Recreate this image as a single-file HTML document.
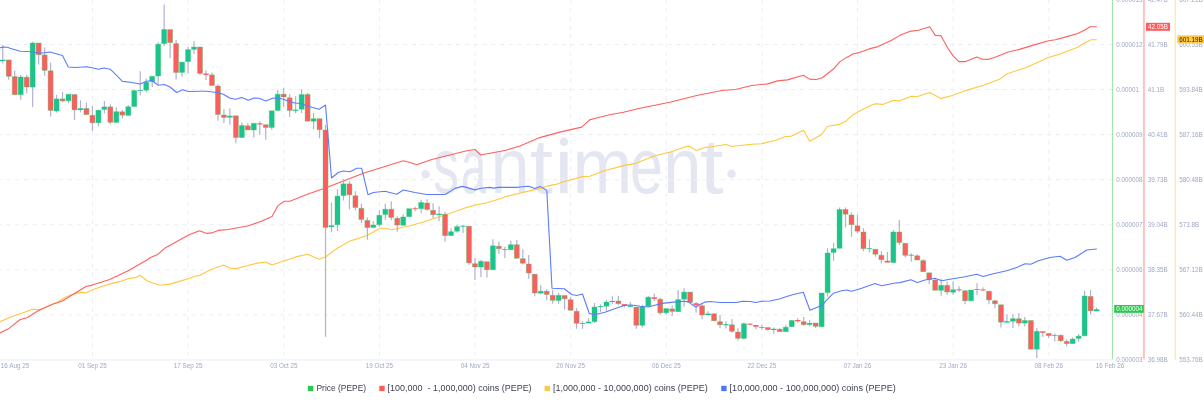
<!DOCTYPE html><html><head><meta charset="utf-8"><style>
html,body{margin:0;padding:0;background:#fff;}
body{width:1204px;height:402px;overflow:hidden;position:relative;font-family:"Liberation Sans", sans-serif;}
svg{position:absolute;left:0;top:0;will-change:transform;}
.lg{position:absolute;top:381px;height:14px;line-height:14px;font-size:8.4px;color:#474b57;white-space:pre;}
.sq{position:absolute;top:385.8px;width:5.3px;height:5.3px;}
</style></head><body>
<svg width="1204" height="402" viewBox="0 0 1204 402" font-family='"Liberation Sans", sans-serif'>
<g fill="#e4e7f2" font-size="78.54">
<text transform="translate(433.27 193.20) scale(0.6541 1)">s</text>
<text transform="translate(461.08 193.20) scale(0.5751 1)">a</text>
<text transform="translate(490.43 193.20) scale(0.8962 1)">n</text>
<text transform="translate(529.74 193.20) scale(1.0620 1)">t</text>
<text transform="translate(572.42 193.20) scale(0.9158 1)">m</text>
<text transform="translate(629.98 193.20) scale(0.7543 1)">e</text>
<text transform="translate(663.25 193.20) scale(0.8722 1)">n</text>
<text transform="translate(700.01 193.20) scale(1.0819 1)">t</text>
<rect x="560.1" y="151.9" width="7.5" height="41.3"/>
<circle cx="563.9" cy="141.7" r="4.3"/>
<circle cx="425.6" cy="174.2" r="4.2"/><circle cx="731.5" cy="173.8" r="4.2"/>
</g>
<g stroke="#edeef5" stroke-width="1" stroke-dasharray="4.41 4.41" fill="none">
<line x1="0" y1="44.50" x2="1112" y2="44.50" stroke-dashoffset="2.72"/>
<line x1="0" y1="89.56" x2="1112" y2="89.56" stroke-dashoffset="2.72"/>
<line x1="0" y1="134.62" x2="1112" y2="134.62" stroke-dashoffset="2.72"/>
<line x1="0" y1="179.68" x2="1112" y2="179.68" stroke-dashoffset="2.72"/>
<line x1="0" y1="224.74" x2="1112" y2="224.74" stroke-dashoffset="2.72"/>
<line x1="0" y1="269.80" x2="1112" y2="269.80" stroke-dashoffset="2.72"/>
<line x1="0" y1="314.86" x2="1112" y2="314.86" stroke-dashoffset="2.72"/>
<line x1="92.55" y1="0" x2="92.55" y2="359" stroke-dashoffset="1.02"/>
<line x1="188.18" y1="0" x2="188.18" y2="359" stroke-dashoffset="1.02"/>
<line x1="283.80" y1="0" x2="283.80" y2="359" stroke-dashoffset="1.02"/>
<line x1="379.43" y1="0" x2="379.43" y2="359" stroke-dashoffset="1.02"/>
<line x1="475.05" y1="0" x2="475.05" y2="359" stroke-dashoffset="1.02"/>
<line x1="570.67" y1="0" x2="570.67" y2="359" stroke-dashoffset="1.02"/>
<line x1="666.30" y1="0" x2="666.30" y2="359" stroke-dashoffset="1.02"/>
<line x1="761.92" y1="0" x2="761.92" y2="359" stroke-dashoffset="1.02"/>
<line x1="857.55" y1="0" x2="857.55" y2="359" stroke-dashoffset="1.02"/>
<line x1="953.17" y1="0" x2="953.17" y2="359" stroke-dashoffset="1.02"/>
<line x1="1048.80" y1="0" x2="1048.80" y2="359" stroke-dashoffset="1.02"/>
</g>
<rect x="0" y="359.5" width="1112.4" height="1" fill="#eceef5"/>
<polyline points="-3.5,323.0 0.0,321.7 13.4,316.0 22.4,312.9 32.5,309.2 40.3,309.6 50.0,305.5 58.7,301.5 64.9,297.5 69.9,295.3 79.8,292.4 86.0,292.7 93.5,289.6 102.2,286.3 112.1,283.4 120.8,281.4 128.3,278.4 134.5,277.9 140.1,275.3 147.0,280.8 152.0,282.8 160.0,285.2 170.2,284.1 179.2,281.4 190.4,277.9 195.0,276.3 200.0,275.3 209.9,270.1 223.6,265.1 229.8,268.2 236.0,268.6 247.2,265.7 257.2,263.1 265.3,262.0 272.1,264.9 282.1,261.4 289.5,259.3 297.0,256.6 307.6,254.2 319.2,259.2 325.8,256.7 338.3,247.5 350.0,241.0 356.8,238.9 368.0,234.9 380.0,228.3 385.8,228.2 391.7,229.8 398.3,228.3 410.0,225.8 423.3,222.0 436.7,217.5 448.3,214.0 455.0,211.6 465.0,207.9 477.4,204.5 486.1,203.0 496.0,199.9 507.2,196.3 519.7,193.3 529.6,190.9 540.8,188.4 547.0,186.1 557.0,184.1 563.2,181.8 575.0,178.9 581.7,176.6 589.6,176.2 603.6,171.0 623.5,165.6 635.5,163.4 653.4,156.2 671.3,151.7 685.3,146.7 689.3,146.3 696.3,150.5 705.2,147.4 712.0,146.7 725.9,144.5 731.9,146.5 739.9,145.5 751.8,144.3 761.8,143.7 775.7,140.3 785.7,136.5 791.7,136.1 803.6,130.3 809.6,141.3 821.6,134.5 827.6,126.3 839.5,124.4 845.5,121.3 852.5,115.1 861.5,110.0 872.5,104.7 875.9,103.7 882.6,104.4 893.8,100.2 899.4,101.1 910.6,96.4 917.4,96.5 929.7,92.6 940.9,98.6 952.1,95.5 965.6,90.6 983.5,85.3 1000.3,78.9 1007.1,73.8 1017.2,70.6 1026.1,67.6 1037.4,62.5 1048.6,57.5 1059.8,53.9 1077.7,47.2 1084.4,43.0 1091.2,39.7 1096.8,39.7" fill="none" stroke="#ffc840" stroke-width="1.1" stroke-linejoin="round"/>
<polyline points="-3.5,334.5 0.0,332.9 9.0,328.4 20.2,319.5 26.9,317.8 38.1,310.8 52.4,304.3 62.4,301.0 72.3,294.8 86.0,286.5 92.2,285.1 109.7,279.4 127.1,271.2 147.0,260.0 150.0,257.8 157.8,254.4 164.6,248.3 174.6,242.8 188.1,235.3 199.3,230.8 207.1,233.4 211.6,232.9 218.3,230.4 228.4,229.5 248.5,225.7 261.9,221.1 272.0,216.5 278.0,205.6 284.3,201.3 289.9,201.3 306.7,194.5 323.3,188.7 363.3,173.3 403.3,160.8 410.0,162.5 416.7,164.7 431.7,159.5 450.0,155.0 466.7,150.8 475.0,149.5 480.8,155.0 490.0,153.3 505.9,150.3 519.9,146.0 539.8,137.6 559.7,132.1 581.7,127.1 589.6,119.9 595.6,118.3 609.6,114.7 623.5,112.2 639.9,108.2 669.8,102.3 695.7,95.8 721.7,90.5 735.6,89.5 751.6,85.5 767.5,83.9 777.5,80.9 787.4,79.9 803.4,75.3 809.4,79.1 816.3,79.5 822.3,77.7 834.3,68.2 840.0,61.6 846.7,57.4 853.5,53.7 857.9,52.9 869.2,48.9 878.1,46.6 891.6,40.3 899.4,35.6 909.5,31.4 918.5,30.2 929.7,26.7 935.3,35.4 940.9,35.6 947.6,47.7 953.3,56.1 958.9,61.6 965.6,61.6 976.8,57.1 982.4,59.2 988.0,59.4 997.0,56.4 1008.2,52.0 1019.4,49.4 1035.1,44.6 1048.6,40.7 1055.3,39.7 1064.3,37.4 1077.7,33.5 1084.4,30.2 1090.1,26.7 1096.8,26.7" fill="none" stroke="#ff6060" stroke-width="1.1" stroke-linejoin="round"/>
<path d="M2.78 45.0V63.5M8.75 59.9V79.7M14.73 70.4V94.7M20.71 75.0V99.7M26.69 74.7V93.3M32.66 41.7V107.0M38.64 43.0V64.5M44.62 47.4V75.7M50.59 62.7V116.5M56.57 95.1V112.5M62.55 92.1V102.3M68.52 94.3V103.3M74.50 94.5V120.0M80.48 100.2V112.5M86.45 102.4V114.6M92.43 105.9V131.0M98.41 110.2V126.3M104.39 101.0V113.5M110.36 104.2V124.5M116.34 107.3V122.4M122.32 109.9V118.3M128.29 104.9V115.4M134.27 89.7V106.4M140.25 71.2V95.6M146.23 78.4V92.5M152.20 76.3V87.2M158.18 42.3V84.2M164.16 4.4V45.9M170.13 29.6V58.0M176.11 40.0V79.5M182.09 62.1V76.7M188.06 47.0V73.4M194.04 41.0V54.0M200.02 47.0V75.0M206.00 70.2V80.1M211.97 72.6V85.5M217.95 84.2V120.8M223.93 109.2V123.0M229.90 108.3V124.7M235.88 115.8V143.3M241.86 122.5V137.5M247.83 123.3V130.0M253.81 123.3V137.5M259.79 121.3V135.0M265.77 124.7V139.7M271.74 110.8V129.7M277.72 90.0V110.5M283.70 87.8V106.7M289.67 94.2V117.0M295.65 96.3V113.3M301.63 89.2V113.0M307.60 93.0V121.2M313.58 113.0V129.2M319.56 118.7V138.3M325.54 125.0V336.7M331.51 202.5V232.3M337.49 189.2V231.0M343.47 179.1V200.5M349.44 181.0V209.3M355.42 191.3V210.5M361.40 203.8V223.1M367.37 217.5V239.7M373.35 221.3V227.5M379.33 210.3V226.7M385.31 203.7V219.7M391.28 201.3V220.3M397.26 216.3V231.7M403.24 214.2V225.3M409.21 208.7V216.7M415.19 206.7V211.3M421.17 199.7V213.3M427.14 199.2V210.8M433.12 203.3V218.3M439.10 206.3V221.3M445.08 211.8V241.7M451.05 228.3V235.6M457.03 224.7V232.5M463.01 224.7V233.0M468.98 226.2V265.0M474.96 258.3V280.0M480.94 260.0V277.0M486.91 261.7V277.5M492.89 239.2V269.7M498.87 241.7V253.7M504.85 246.7V258.0M510.82 240.8V249.7M516.80 240.0V258.3M522.78 249.2V264.7M528.75 255.0V278.7M534.73 274.2V296.3M540.71 285.3V293.3M546.68 289.2V300.3M552.66 290.0V303.7M558.64 293.0V303.7M564.62 295.5V309.7M570.59 296.7V310.3M576.57 308.3V328.7M582.55 321.3V328.7M588.52 318.3V323.3M594.50 303.0V323.0M600.48 304.2V312.0M606.45 299.8V310.8M612.43 296.3V303.8M618.41 296.1V305.0M624.38 304.2V307.5M630.36 302.0V306.7M636.34 307.1V328.7M642.32 304.7V327.5M648.29 295.7V306.2M654.27 293.4V301.0M660.25 297.4V314.8M666.22 308.6V314.8M672.20 305.6V315.9M678.18 290.1V311.7M684.15 288.2V306.4M690.13 292.1V303.5M696.11 302.0V312.7M702.09 303.0V319.2M708.06 311.3V315.1M714.04 313.3V320.8M720.02 315.0V328.3M725.99 321.3V328.5M731.97 319.2V332.8M737.95 328.3V340.5M743.92 322.5V339.7M749.90 323.0V324.7M755.88 325.0V329.2M761.86 324.7V329.7M767.83 327.5V330.8M773.81 327.5V333.7M779.79 328.3V331.7M785.76 325.0V331.7M791.74 320.0V326.7M797.72 318.3V322.5M803.70 317.0V325.8M809.67 320.0V326.3M815.65 323.0V328.0M821.63 293.0V326.7M827.60 248.3V296.7M833.58 243.0V260.8M839.56 207.5V248.3M845.53 207.5V227.5M851.51 212.5V236.7M857.49 214.7V233.3M863.47 228.3V251.3M869.44 239.2V252.5M875.42 249.2V256.7M881.40 251.3V263.3M887.37 252.0V262.5M893.35 230.0V263.3M899.33 220.0V245.0M905.30 243.3V257.5M911.28 253.3V261.7M917.26 254.2V260.0M923.24 259.2V271.7M929.21 272.8V284.2M935.19 278.3V290.3M941.17 278.7V295.8M947.14 281.7V294.7M953.12 281.3V294.7M959.10 286.3V291.7M965.07 289.7V304.2M971.05 290.0V300.8M977.03 283.3V295.3M983.00 287.5V290.5M988.98 291.2V304.3M994.96 299.8V307.8M1000.94 304.8V327.4M1006.91 314.2V322.6M1012.89 314.3V328.0M1018.87 313.0V326.6M1024.84 317.0V326.6M1030.82 320.5V349.2M1036.80 328.3V358.3M1042.78 331.3V337.0M1048.75 333.5V337.9M1054.73 333.5V341.4M1060.71 334.5V342.0M1066.68 339.3V346.6M1072.66 337.5V343.6M1078.64 333.9V341.4M1084.61 290.9V335.8M1090.59 290.0V314.4M1096.57 307.4V311.2" stroke="#b0b2d0" stroke-width="1.2" fill="none"/>
<g fill="#1cc38f" stroke="#3cc864" stroke-opacity="0.45" stroke-width="0.8"><rect x="0.08" y="59.8" width="5.4" height="1.2" stroke="none"/><rect x="18.21" y="77.0" width="5.0" height="17.7"/><rect x="30.16" y="43.0" width="5.0" height="44.1"/><rect x="54.07" y="98.9" width="5.0" height="12.1"/><rect x="66.02" y="94.3" width="5.0" height="6.5"/><rect x="77.78" y="108.3" width="5.4" height="1.7" stroke="none"/><rect x="95.91" y="110.2" width="5.0" height="12.6"/><rect x="101.89" y="106.9" width="5.0" height="2.6"/><rect x="113.84" y="111.7" width="5.0" height="10.7"/><rect x="125.79" y="106.8" width="5.0" height="8.6"/><rect x="131.77" y="90.6" width="5.0" height="15.8"/><rect x="137.55" y="90.0" width="5.4" height="0.8" stroke="none"/><rect x="143.73" y="82.2" width="5.0" height="8.0"/><rect x="149.70" y="76.3" width="5.0" height="5.3"/><rect x="155.68" y="44.2" width="5.0" height="31.8"/><rect x="161.66" y="29.5" width="5.0" height="14.1"/><rect x="179.59" y="62.1" width="5.0" height="10.3"/><rect x="185.56" y="49.7" width="5.0" height="11.9"/><rect x="191.54" y="47.0" width="5.0" height="2.4"/><rect x="227.20" y="115.8" width="5.4" height="1.7" stroke="none"/><rect x="239.36" y="125.5" width="5.0" height="12.0"/><rect x="251.31" y="123.3" width="5.0" height="6.7"/><rect x="269.24" y="110.8" width="5.0" height="16.7"/><rect x="275.22" y="94.2" width="5.0" height="16.3"/><rect x="292.95" y="109.7" width="5.4" height="1.1" stroke="none"/><rect x="299.13" y="94.5" width="5.0" height="14.7"/><rect x="311.08" y="118.7" width="5.0" height="2.5"/><rect x="328.81" y="225.4" width="5.4" height="1.6" stroke="none"/><rect x="334.99" y="196.1" width="5.0" height="28.7"/><rect x="340.97" y="183.9" width="5.0" height="11.7"/><rect x="370.85" y="225.0" width="5.0" height="2.5"/><rect x="376.83" y="215.3" width="5.0" height="9.4"/><rect x="382.81" y="209.2" width="5.0" height="5.3"/><rect x="400.74" y="217.0" width="5.0" height="8.3"/><rect x="406.71" y="208.7" width="5.0" height="8.0"/><rect x="418.67" y="202.5" width="5.0" height="6.2"/><rect x="436.40" y="213.8" width="5.4" height="1.2" stroke="none"/><rect x="448.55" y="231.7" width="5.0" height="3.9"/><rect x="454.53" y="226.7" width="5.0" height="4.5"/><rect x="460.31" y="225.8" width="5.4" height="0.9" stroke="none"/><rect x="478.44" y="261.3" width="5.0" height="5.7"/><rect x="490.39" y="245.8" width="5.0" height="23.9"/><rect x="508.32" y="244.7" width="5.0" height="5.0"/><rect x="538.21" y="291.2" width="5.0" height="2.1"/><rect x="556.14" y="295.3" width="5.0" height="5.2"/><rect x="579.85" y="323.0" width="5.4" height="0.8" stroke="none"/><rect x="585.82" y="321.7" width="5.4" height="1.6" stroke="none"/><rect x="592.00" y="307.0" width="5.0" height="14.7"/><rect x="597.78" y="306.2" width="5.4" height="0.8" stroke="none"/><rect x="603.95" y="302.0" width="5.0" height="4.2"/><rect x="609.73" y="301.0" width="5.4" height="1.0" stroke="none"/><rect x="627.66" y="306.0" width="5.4" height="0.8" stroke="none"/><rect x="639.82" y="306.5" width="5.0" height="18.8"/><rect x="645.79" y="297.2" width="5.0" height="9.0"/><rect x="663.72" y="308.6" width="5.0" height="4.2"/><rect x="675.68" y="299.6" width="5.0" height="12.1"/><rect x="681.65" y="292.1" width="5.0" height="7.1"/><rect x="705.36" y="313.6" width="5.4" height="1.5" stroke="none"/><rect x="723.29" y="324.2" width="5.4" height="1.1" stroke="none"/><rect x="741.42" y="323.7" width="5.0" height="14.6"/><rect x="771.11" y="328.8" width="5.4" height="1.2" stroke="none"/><rect x="783.26" y="327.2" width="5.0" height="4.5"/><rect x="789.24" y="320.5" width="5.0" height="6.2"/><rect x="806.97" y="323.0" width="5.4" height="1.7" stroke="none"/><rect x="819.13" y="293.0" width="5.0" height="33.7"/><rect x="825.10" y="253.0" width="5.0" height="39.5"/><rect x="831.08" y="248.7" width="5.0" height="3.8"/><rect x="837.06" y="209.5" width="5.0" height="38.8"/><rect x="866.74" y="248.3" width="5.4" height="0.8" stroke="none"/><rect x="890.85" y="232.0" width="5.0" height="30.5"/><rect x="908.58" y="254.8" width="5.4" height="0.8" stroke="none"/><rect x="938.67" y="285.3" width="5.0" height="5.0"/><rect x="950.62" y="289.7" width="5.0" height="2.5"/><rect x="968.55" y="290.0" width="5.0" height="10.8"/><rect x="974.33" y="289.2" width="5.4" height="0.8" stroke="none"/><rect x="1004.21" y="321.3" width="5.4" height="1.3" stroke="none"/><rect x="1010.39" y="318.7" width="5.0" height="2.6"/><rect x="1022.34" y="320.5" width="5.0" height="2.6"/><rect x="1034.30" y="331.3" width="5.0" height="17.9"/><rect x="1052.03" y="334.9" width="5.4" height="0.8" stroke="none"/><rect x="1070.16" y="339.1" width="5.0" height="4.5"/><rect x="1076.14" y="336.1" width="5.0" height="2.3"/><rect x="1082.11" y="296.0" width="5.0" height="39.8"/><rect x="1093.87" y="309.3" width="5.4" height="1.9" stroke="none"/></g>
<g fill="#ff5d5d" stroke="#3cc864" stroke-opacity="0.45" stroke-width="0.8"><rect x="6.25" y="59.9" width="5.0" height="16.4"/><rect x="12.23" y="76.6" width="5.0" height="18.1"/><rect x="24.19" y="77.2" width="5.0" height="9.8"/><rect x="36.14" y="43.0" width="5.0" height="11.8"/><rect x="42.12" y="54.9" width="5.0" height="15.5"/><rect x="48.09" y="70.8" width="5.0" height="39.7"/><rect x="60.05" y="98.9" width="5.0" height="2.0"/><rect x="72.00" y="94.5" width="5.0" height="15.4"/><rect x="83.95" y="108.4" width="5.0" height="6.2"/><rect x="89.93" y="115.3" width="5.0" height="7.5"/><rect x="107.86" y="106.9" width="5.0" height="15.4"/><rect x="119.82" y="111.8" width="5.0" height="3.3"/><rect x="167.63" y="29.6" width="5.0" height="13.0"/><rect x="173.61" y="43.6" width="5.0" height="28.9"/><rect x="197.52" y="47.0" width="5.0" height="26.4"/><rect x="203.30" y="73.5" width="5.4" height="1.4" stroke="none"/><rect x="209.47" y="74.9" width="5.0" height="10.6"/><rect x="215.45" y="86.0" width="5.0" height="28.5"/><rect x="221.43" y="115.0" width="5.0" height="2.5"/><rect x="233.38" y="115.8" width="5.0" height="21.7"/><rect x="245.33" y="125.8" width="5.0" height="4.2"/><rect x="257.09" y="123.3" width="5.4" height="1.2" stroke="none"/><rect x="263.27" y="124.7" width="5.0" height="2.8"/><rect x="281.20" y="94.2" width="5.0" height="2.8"/><rect x="287.17" y="97.8" width="5.0" height="12.7"/><rect x="305.10" y="94.5" width="5.0" height="26.7"/><rect x="317.06" y="118.7" width="5.0" height="11.0"/><rect x="323.04" y="130.0" width="5.0" height="97.4"/><rect x="346.94" y="183.9" width="5.0" height="10.9"/><rect x="352.92" y="195.8" width="5.0" height="11.7"/><rect x="358.90" y="208.3" width="5.0" height="11.2"/><rect x="364.87" y="220.4" width="5.0" height="7.1"/><rect x="388.78" y="209.2" width="5.0" height="8.3"/><rect x="394.76" y="218.3" width="5.0" height="6.7"/><rect x="412.49" y="208.3" width="5.4" height="0.9" stroke="none"/><rect x="424.64" y="203.0" width="5.0" height="6.5"/><rect x="430.62" y="210.3" width="5.0" height="4.4"/><rect x="442.58" y="214.3" width="5.0" height="21.3"/><rect x="466.48" y="226.2" width="5.0" height="36.7"/><rect x="472.46" y="263.7" width="5.0" height="3.3"/><rect x="484.41" y="261.7" width="5.0" height="8.0"/><rect x="496.37" y="246.2" width="5.0" height="2.5"/><rect x="502.15" y="249.0" width="5.4" height="0.8" stroke="none"/><rect x="514.30" y="244.7" width="5.0" height="13.6"/><rect x="520.28" y="258.7" width="5.0" height="4.5"/><rect x="526.25" y="264.0" width="5.0" height="9.0"/><rect x="532.23" y="274.2" width="5.0" height="18.8"/><rect x="544.18" y="291.2" width="5.0" height="3.3"/><rect x="550.16" y="295.3" width="5.0" height="5.0"/><rect x="562.12" y="295.5" width="5.0" height="3.3"/><rect x="568.09" y="299.7" width="5.0" height="10.6"/><rect x="574.07" y="311.3" width="5.0" height="12.0"/><rect x="615.91" y="301.0" width="5.0" height="2.7"/><rect x="621.68" y="304.2" width="5.4" height="1.8" stroke="none"/><rect x="633.84" y="307.1" width="5.0" height="18.2"/><rect x="651.57" y="297.3" width="5.4" height="1.6" stroke="none"/><rect x="657.75" y="299.3" width="5.0" height="13.5"/><rect x="669.70" y="308.9" width="5.0" height="2.5"/><rect x="687.63" y="292.1" width="5.0" height="10.4"/><rect x="693.41" y="303.3" width="5.4" height="1.8" stroke="none"/><rect x="699.59" y="305.8" width="5.0" height="9.2"/><rect x="711.54" y="313.8" width="5.0" height="7.0"/><rect x="717.52" y="321.7" width="5.0" height="3.0"/><rect x="729.47" y="324.8" width="5.0" height="6.5"/><rect x="735.45" y="332.0" width="5.0" height="6.3"/><rect x="747.20" y="323.7" width="5.4" height="1.0" stroke="none"/><rect x="753.18" y="325.0" width="5.4" height="1.7" stroke="none"/><rect x="759.16" y="327.0" width="5.4" height="0.8" stroke="none"/><rect x="765.33" y="327.5" width="5.0" height="2.2"/><rect x="777.29" y="329.2" width="5.0" height="2.5"/><rect x="795.02" y="320.0" width="5.4" height="1.3" stroke="none"/><rect x="801.20" y="321.7" width="5.0" height="3.0"/><rect x="813.15" y="323.0" width="5.0" height="3.3"/><rect x="843.03" y="209.5" width="5.0" height="4.7"/><rect x="849.01" y="215.0" width="5.0" height="9.7"/><rect x="854.99" y="225.8" width="5.0" height="5.4"/><rect x="860.97" y="232.0" width="5.0" height="16.7"/><rect x="872.92" y="249.2" width="5.0" height="5.0"/><rect x="878.90" y="255.3" width="5.0" height="4.4"/><rect x="884.67" y="260.8" width="5.4" height="1.7" stroke="none"/><rect x="896.83" y="232.0" width="5.0" height="10.5"/><rect x="902.80" y="243.3" width="5.0" height="12.0"/><rect x="914.76" y="255.8" width="5.0" height="4.2"/><rect x="920.74" y="260.6" width="5.0" height="11.1"/><rect x="926.71" y="272.8" width="5.0" height="6.9"/><rect x="932.69" y="280.0" width="5.0" height="10.3"/><rect x="944.64" y="285.3" width="5.0" height="6.7"/><rect x="956.40" y="289.3" width="5.4" height="1.0" stroke="none"/><rect x="962.57" y="290.8" width="5.0" height="10.0"/><rect x="980.30" y="289.5" width="5.4" height="1.0" stroke="none"/><rect x="986.48" y="291.2" width="5.0" height="8.8"/><rect x="992.46" y="300.8" width="5.0" height="3.0"/><rect x="998.44" y="304.8" width="5.0" height="17.4"/><rect x="1016.37" y="318.7" width="5.0" height="4.4"/><rect x="1028.32" y="320.5" width="5.0" height="28.7"/><rect x="1040.08" y="331.3" width="5.4" height="1.4" stroke="none"/><rect x="1046.25" y="333.5" width="5.0" height="2.1"/><rect x="1058.21" y="335.3" width="5.0" height="5.5"/><rect x="1064.18" y="341.4" width="5.0" height="2.2"/><rect x="1088.09" y="296.4" width="5.0" height="14.5"/></g>
<polyline points="-3.5,48.3 0.0,47.8 3.5,47.1 7.5,47.3 10.0,48.3 20.0,51.3 31.7,51.7 40.0,53.3 50.0,52.0 62.5,55.5 68.3,67.0 75.0,67.5 86.7,66.8 92.0,67.8 98.6,69.2 104.2,68.0 110.2,69.2 116.3,75.2 122.4,81.4 130.3,82.3 140.0,84.0 146.7,81.3 151.7,80.5 158.3,85.3 164.2,84.5 170.0,87.0 176.7,92.5 182.5,89.7 188.3,91.5 200.0,91.3 206.7,91.3 216.7,92.5 223.3,94.2 230.0,98.3 235.8,99.2 241.7,97.5 248.3,100.3 254.2,98.0 259.2,98.3 265.8,101.0 272.5,98.3 277.5,98.0 283.3,99.2 290.0,101.7 295.0,103.0 300.8,103.5 306.7,105.8 312.5,107.5 319.2,109.2 325.5,105.0 331.5,178.0 338.3,172.5 343.3,171.0 350.0,171.7 356.7,168.3 361.7,168.3 368.0,194.7 373.3,192.5 385.0,191.3 396.7,194.2 403.3,190.0 415.0,192.5 426.7,194.5 445.0,194.5 455.0,188.4 462.5,186.4 467.4,187.6 474.9,189.9 481.1,188.2 489.8,187.4 493.6,188.1 498.5,187.4 517.2,187.4 522.2,186.8 528.4,186.3 530.9,187.1 534.6,188.6 540.2,186.4 544.6,189.1 546.8,190.6 552.0,288.3 564.2,288.8 571.7,294.5 576.7,295.5 582.5,294.0 589.2,313.3 594.2,314.7 605.0,312.2 616.7,308.0 625.0,305.3 631.7,305.0 640.0,306.2 648.4,307.0 655.7,305.0 662.4,303.4 673.6,302.1 684.8,301.3 689.3,302.1 692.6,305.1 696.0,307.0 700.5,304.3 705.0,302.1 710.0,301.5 720.0,302.5 736.7,302.5 742.5,301.3 750.0,301.5 755.8,302.5 761.7,301.2 770.0,301.0 779.2,299.0 786.7,296.5 793.3,294.5 803.3,292.3 810.0,310.2 819.0,306.6 822.0,305.6 826.6,300.2 833.3,293.3 841.7,290.8 846.7,290.0 851.7,291.3 861.7,288.3 875.0,283.5 881.7,285.8 895.0,283.0 900.0,282.6 910.8,279.7 917.5,282.5 925.0,280.0 935.0,278.3 941.7,280.8 950.0,279.2 965.0,276.7 976.7,274.2 983.3,276.5 993.3,273.8 1006.7,270.8 1016.7,267.5 1025.0,263.8 1030.8,264.2 1038.3,260.8 1050.0,257.5 1060.0,256.2 1066.7,260.3 1075.0,257.5 1081.7,253.3 1086.7,250.0 1096.8,249.0" fill="none" stroke="#5a7cff" stroke-width="1.1" stroke-linejoin="round"/>
<rect x="1111.9" y="0" width="1.1" height="359.5" fill="#a3e4ad"/>
<rect x="1142.9" y="0" width="2" height="359.5" fill="#ffc2c2"/>
<rect x="1174.7" y="0" width="1.1" height="359.5" fill="#ffe39a"/>
<g font-size="6.3" fill="#a0a8c4">
<text x="1116.3" y="-0.6" dominant-baseline="central">0.000013</text>
<text x="1147.8" y="-0.6" dominant-baseline="central">42.47B</text>
<text x="1179.3" y="-0.6" dominant-baseline="central">607.21B</text>
<text x="1116.3" y="44.5" dominant-baseline="central">0.000012</text>
<text x="1147.8" y="44.5" dominant-baseline="central">41.79B</text>
<text x="1179.3" y="44.5" dominant-baseline="central">600.53B</text>
<text x="1116.3" y="89.6" dominant-baseline="central">0.00001</text>
<text x="1147.8" y="89.6" dominant-baseline="central">41.1B</text>
<text x="1179.3" y="89.6" dominant-baseline="central">593.84B</text>
<text x="1116.3" y="134.6" dominant-baseline="central">0.000009</text>
<text x="1147.8" y="134.6" dominant-baseline="central">40.41B</text>
<text x="1179.3" y="134.6" dominant-baseline="central">587.16B</text>
<text x="1116.3" y="179.7" dominant-baseline="central">0.000008</text>
<text x="1147.8" y="179.7" dominant-baseline="central">39.73B</text>
<text x="1179.3" y="179.7" dominant-baseline="central">580.48B</text>
<text x="1116.3" y="224.7" dominant-baseline="central">0.000007</text>
<text x="1147.8" y="224.7" dominant-baseline="central">39.04B</text>
<text x="1179.3" y="224.7" dominant-baseline="central">573.8B</text>
<text x="1116.3" y="269.8" dominant-baseline="central">0.000006</text>
<text x="1147.8" y="269.8" dominant-baseline="central">38.35B</text>
<text x="1179.3" y="269.8" dominant-baseline="central">567.12B</text>
<text x="1116.3" y="314.9" dominant-baseline="central">0.000004</text>
<text x="1147.8" y="314.9" dominant-baseline="central">37.67B</text>
<text x="1179.3" y="314.9" dominant-baseline="central">560.44B</text>
<text x="1116.3" y="359.9" dominant-baseline="central">0.000003</text>
<text x="1147.8" y="359.9" dominant-baseline="central">36.98B</text>
<text x="1179.3" y="359.9" dominant-baseline="central">553.76B</text>
</g>
<g font-size="6.3" fill="#a0a8c4">
<text x="0.8" y="367.9">16 Aug 25</text>
<text x="92.5" y="367.9" text-anchor="middle">01 Sep 25</text>
<text x="188.2" y="367.9" text-anchor="middle">17 Sep 25</text>
<text x="283.8" y="367.9" text-anchor="middle">03 Oct 25</text>
<text x="379.4" y="367.9" text-anchor="middle">19 Oct 25</text>
<text x="475.1" y="367.9" text-anchor="middle">04 Nov 25</text>
<text x="570.7" y="367.9" text-anchor="middle">20 Nov 25</text>
<text x="666.3" y="367.9" text-anchor="middle">06 Dec 25</text>
<text x="761.9" y="367.9" text-anchor="middle">22 Dec 25</text>
<text x="857.5" y="367.9" text-anchor="middle">07 Jan 26</text>
<text x="953.2" y="367.9" text-anchor="middle">23 Jan 26</text>
<text x="1048.8" y="367.9" text-anchor="middle">08 Feb 26</text>
<text x="1095.8" y="367.9">16 Feb 26</text>
</g>
<rect x="1146" y="22.8" width="24" height="8" fill="#ff5b5b"/>
<text x="1158" y="26.9" font-size="6.3" fill="#fff" text-anchor="middle" dominant-baseline="central">42.05B</text>
<rect x="1177.3" y="35.3" width="27" height="8.1" fill="#fdc947"/>
<text x="1179.3" y="39.4" font-size="6.3" fill="#222" dominant-baseline="central">601.19B</text>
<rect x="1114.2" y="305" width="29.6" height="7.8" fill="#2ac84f"/>
<text x="1116.3" y="308.9" font-size="6.3" fill="#fff" dominant-baseline="central">0.000004</text>
<g font-size="8.4" fill="#3f4250">
<rect x="307.9" y="385.8" width="5.4" height="5.3" fill="#2ac84f"/>
<text x="316.5" y="391.4" textLength="49.6" lengthAdjust="spacingAndGlyphs">Price (PEPE)</text>
<rect x="379.3" y="385.8" width="5.4" height="5.3" fill="#ff5b5b"/>
<text x="387.6" y="391.4" textLength="144.0" lengthAdjust="spacingAndGlyphs">[100,000 &#160;- 1,000,000) coins (PEPE)</text>
<rect x="544.6" y="385.8" width="5.4" height="5.3" fill="#fdc947"/>
<text x="552.9" y="391.4" textLength="154.9" lengthAdjust="spacingAndGlyphs">[1,000,000 - 10,000,000) coins (PEPE)</text>
<rect x="721.2" y="385.8" width="5.4" height="5.3" fill="#5275ff"/>
<text x="729.6" y="391.4" textLength="166.2" lengthAdjust="spacingAndGlyphs">[10,000,000 - 100,000,000) coins (PEPE)</text>
</g>
</svg>
</body></html>
